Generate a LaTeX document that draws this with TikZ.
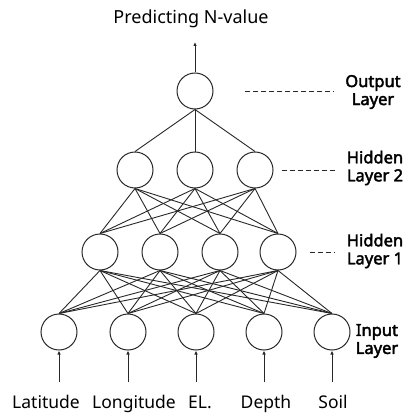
\documentclass[tikz,border=0pt]{standalone}
\usepackage{fontspec}
\setmainfont{Noto Sans}[AutoFakeBold=2.5]
\usepackage{tikz}
\usetikzlibrary{arrows.meta,positioning}
\definecolor{nngray}{RGB}{40,40,40}

\begin{document}
\begin{tikzpicture}[
		x=1pt, y=-1pt,
		neuron/.style={circle, draw=nngray, line width=1pt, minimum size=36pt, inner sep=0pt},
		link/.style={draw=nngray, line width=0.9pt},
		arrow/.style={-{Latex[length=4pt,width=3.5pt]}, draw=nngray, line width=1pt},
		guide/.style={draw=nngray, line width=0.9pt, dash pattern=on 5pt off 3pt},
		layer/.style={align=center, font=\fontsize{16.5}{18}\selectfont\bfseries, inner sep=0pt},
		label/.style={font=\fontsize{17.5}{20}\selectfont, inner sep=0pt, anchor=base}
	]
	\useasboundingbox (0,0) rectangle (409,417);
	
	% neurons
	\node[neuron] (out) at (195,91) {};
	\foreach \x [count=\i] in {135,195,255}
		\node[neuron] (h2-\i) at (\x,170) {};
	\foreach \x [count=\i] in {100,160,220,278}
		\node[neuron] (h1-\i) at (\x,252) {};
	\foreach \x [count=\i] in {59,128,196,264,332}
		\node[neuron] (in-\i) at (\x,332) {};
	
	% connections
	\foreach \i in {1,...,3}
		\draw[link] (out.south) -- (h2-\i.north);
	\foreach \i in {1,...,3}
		\foreach \j in {1,...,4}
			\draw[link] (h2-\i.south) -- (h1-\j.north);
	\foreach \i in {1,...,4}
		\foreach \j in {1,...,5}
			\draw[link] (h1-\i.south) -- (in-\j.north);
	
	% output
	\coordinate (top) at (195,42);
	\node[font=\fontsize{18}{20}\selectfont, inner sep=0pt] (title) at (191,19) {Predicting N-value};
	\draw[arrow] (out.north) -- (top);
	
	% inputs
	\foreach \x/\lx/\txt [count=\i] in {59/46/Latitude, 128/134/Longitude, 196/200/EL., 264/266/Depth, 332/333/Soil}{
		\coordinate (tail-\i) at (\x,382);
		\node[label] (lab-\i) at (\lx,408) {\txt};
		\draw[arrow] (tail-\i) -- (in-\i.south);
	}
	
	% layer names
	\node[layer] (lo) at (373,92) {Output\\Layer};
	\node[layer] (lh2) at (375,168) {Hidden\\Layer 2};
	\node[layer] (lh1) at (375,251) {Hidden\\Layer 1};
	\node[layer] (li) at (377,341) {Input\\Layer};
	
	\coordinate (go) at (245,91);
	\coordinate (gh2) at (282,170);
	\coordinate (gh1) at (310,252);
	\draw[guide, shorten >=11pt] (go) -- (go -| lo.west);
	\draw[guide, shorten >=12pt] (gh2) -- (gh2 -| lh2.west);
	\draw[guide, shorten >=12pt] (gh1) -- (gh1 -| lh1.west);
\end{tikzpicture}
\end{document}
